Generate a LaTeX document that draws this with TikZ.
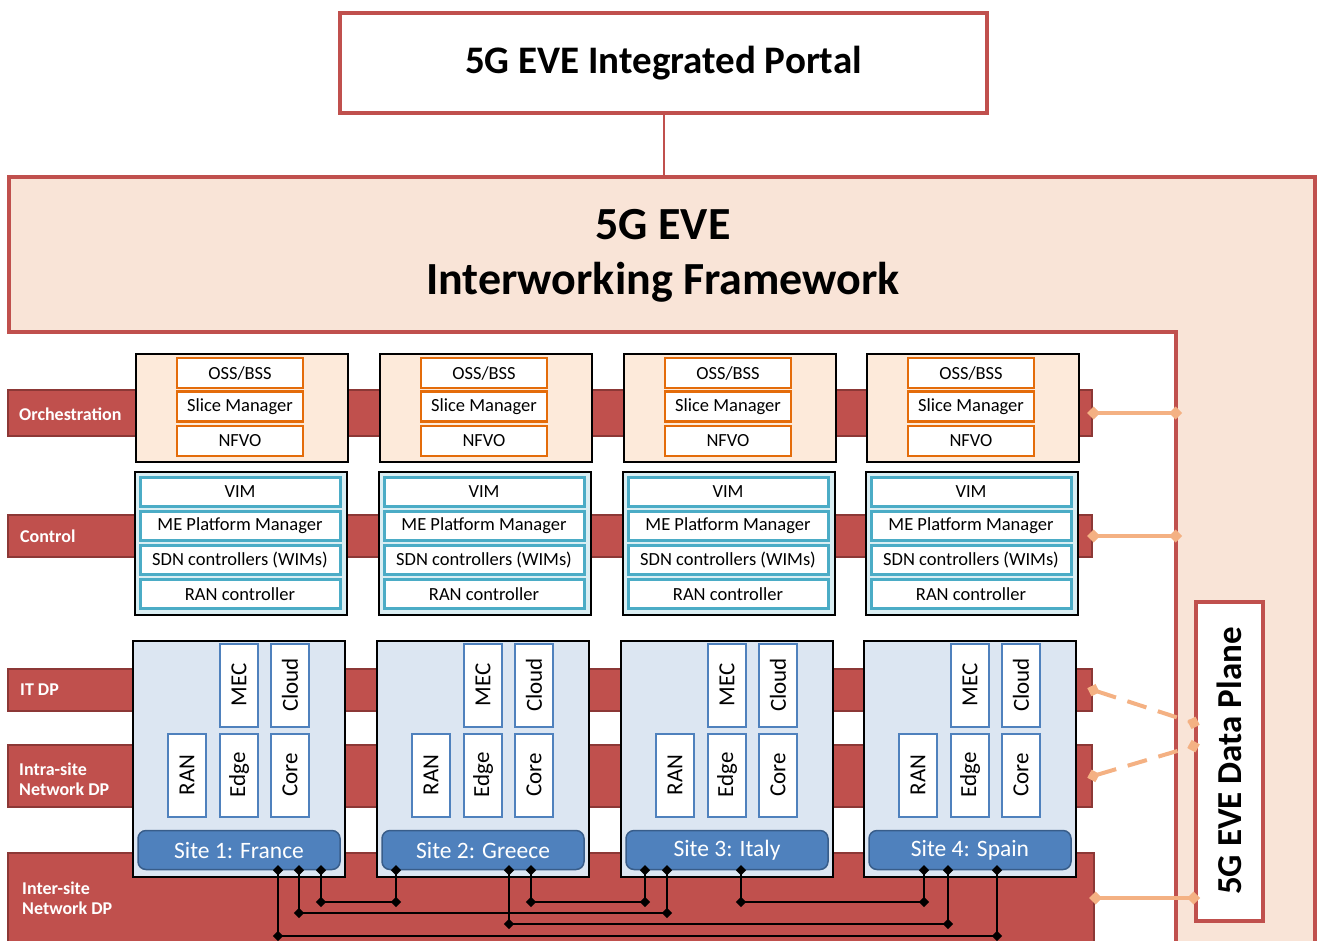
\documentclass[tikz,border=0pt]{standalone}
\usepackage{fontspec}
\setmainfont{Carlito}
\usepackage{xcolor}
\definecolor{evered}{HTML}{C0504D}
\definecolor{evedark}{HTML}{8C3836}
\definecolor{evepeach}{HTML}{F9E4D7}
\definecolor{orchfill}{HTML}{FDEADA}
\definecolor{eveorange}{HTML}{E46C0A}
\definecolor{evecyan}{HTML}{4BACC6}
\definecolor{ctrlfill}{HTML}{DAEEF3}
\definecolor{sitefill}{HTML}{DCE6F2}
\definecolor{eveblue}{HTML}{4F81BD}
\definecolor{eveblueline}{HTML}{385D8A}
\definecolor{evelink}{HTML}{F4B183}
\tikzset{
    layerbar/.style={draw=evedark, fill=evered, line width=2pt, inner sep=0pt},
    barlabel/.style={text=white, font=\fontsize{18}{20}\selectfont\bfseries,
        align=left, anchor=west, inner sep=0pt},
    orchbox/.style={draw=black, fill=orchfill, line width=2pt,
        minimum width=212pt, minimum height=108pt},
    orchitem/.style={draw=eveorange, fill=white, line width=2.5pt, inner sep=0pt,
        minimum width=126pt, minimum height=30pt, font=\fontsize{18.5}{20}\selectfont},
    ctrlbox/.style={draw=black, fill=ctrlfill, line width=2pt,
        minimum width=212pt, minimum height=143pt},
    ctrlitem/.style={draw=evecyan, fill=white, line width=3pt, inner sep=0pt,
        minimum width=200pt, minimum height=29pt, font=\fontsize{18.5}{20}\selectfont},
    sitebox/.style={draw=black, fill=sitefill, line width=2pt,
        minimum width=212pt, minimum height=236pt},
    siteitem/.style={draw=eveblue, fill=white, line width=2pt, inner sep=0pt, rotate=90,
        minimum width=83pt, minimum height=38pt, font=\fontsize{23}{25}\selectfont},
    sitelabel/.style={draw=eveblueline, fill=eveblue, line width=1.5pt, rounded corners=8pt,
        minimum width=202pt, minimum height=39pt, inner sep=0pt, text=white,
        font=\fontsize{23.5}{25}\selectfont},
    meshline/.style={black, line width=2pt},
    jdot/.style={diamond, fill=black, inner sep=0pt, minimum size=11pt},
    fwlink/.style={evelink, line width=4pt, shorten <=-6pt, shorten >=-6pt,
        arrows={Diamond[length=13pt,width=13pt]-Diamond[length=13pt,width=13pt]}},
    fwdash/.style={fwlink, dash pattern=on 20pt off 12pt},
}
\usetikzlibrary{positioning,shapes.geometric,arrows.meta}
\newcommand\meshlink[3]{%
  \draw[meshline] (#1) node[jdot]{} -- (#1 |- 0,#3) node[jdot]{}
        -- (#2 |- 0,#3) node[jdot]{} -- (#2) node[jdot]{};}

\begin{document}
\begin{tikzpicture}[x=1pt, y=-1pt]% pixel grid, y downwards %%%
\useasboundingbox (0,0) rectangle (1319,940);
\clip (0,0) rectangle (1319,940);

%%% interworking framework (L shaped)
\draw[evered, fill=evepeach, line width=4pt]
      (9,177) -- (1315,177) -- (1315,980) -- (1176,980) -- (1176,332) -- (9,332) -- cycle;
\node[font=\fontsize{46}{55}\selectfont\bfseries, align=center] (iwf) at (663,256)
      {5G EVE\\Interworking Framework};

%%% portal
\node[draw=evered, fill=white, line width=4pt, minimum width=647pt, minimum height=100pt,
      font=\fontsize{39}{44}\selectfont\bfseries] (portal) at (663.5,63) {5G EVE Integrated Portal};
\coordinate (fwtop) at (portal.south |- 0,177);
\draw[evered, line width=2pt] (portal.south) -- (fwtop);

%%% layer bars
\node[layerbar, minimum width=1084pt, minimum height=46pt] (orchbar)  at (550,413) {};
\node[layerbar, minimum width=1084pt, minimum height=42pt] (ctrlbar)  at (550,536) {};
\node[layerbar, minimum width=1084pt, minimum height=42pt] (itbar)    at (550,690) {};
\node[layerbar, minimum width=1084pt, minimum height=62pt] (intrabar) at (550,776) {};
\node[layerbar, minimum width=1086pt, minimum height=120pt] (interbar) at (551,913) {};

\node[barlabel] (orchlbl)  at (19,414) {Orchestration};
\node[barlabel] (ctrllbl)  at (20,536) {Control};
\node[barlabel] (itlbl)    at (20,690) {IT DP};
\node[barlabel] (intralbl) at (19,779) {Intra-site\\Network DP};
\node[barlabel] (interlbl) at (22,898) {Inter-site\\Network DP};

%%% the four sites
\foreach \c/\bx/\sname in {1/133/France, 2/377/Greece, 3/621/Italy, 4/864/Spain}{
  \node[orchbox]  (orch\c)  at (\bx+109,407.5) {};
  \node[orchitem] (oss\c)   at (\bx+107,373)   {OSS/BSS};
  \node[orchitem] (slm\c)   at (\bx+107,406.5) {Slice Manager};
  \node[orchitem] (nfvo\c)  at (\bx+107,441)   {NFVO};
  \node[ctrlbox]  (ctrl\c)  at (\bx+108,543)   {};
  \node[ctrlitem] (vim\c)   at (\bx+107,492)   {VIM};
  \node[ctrlitem] (mepm\c)  at (\bx+107,526)   {ME Platform Manager};
  \node[ctrlitem] (sdn\c)   at (\bx+107,560)   {SDN controllers (WIMs)};
  \node[ctrlitem] (ranc\c)  at (\bx+107,594)   {RAN controller};
  \node[sitebox]  (site\c)  at (\bx+106,758.5) {};
  \node[siteitem] (mec\c)   at (\bx+106,685)   {MEC};
  \node[siteitem] (cloud\c) at (\bx+157,685)   {Cloud};
  \node[siteitem] (ran\c)   at (\bx+54,775)    {RAN};
  \node[siteitem] (edge\c)  at (\bx+106,775)   {Edge};
  \node[siteitem] (core\c)  at (\bx+157,775)   {Core};
  \node[sitelabel] (lab\c)  at (\bx+106,850)   {Site \c: \sname};
}

%%% inter-site mesh
\coordinate (p1a) at (lab1.south -| 278,0);
\coordinate (p1b) at (lab1.south -| 299,0);
\coordinate (p1c) at (lab1.south -| 321,0);
\coordinate (p2a) at (lab2.south -| 396,0);
\coordinate (p2b) at (lab2.south -| 509,0);
\coordinate (p2c) at (lab2.south -| 531,0);
\coordinate (p3a) at (lab3.south -| 645,0);
\coordinate (p3b) at (lab3.south -| 667,0);
\coordinate (p3c) at (lab3.south -| 741,0);
\coordinate (p4a) at (lab4.south -| 924,0);
\coordinate (p4b) at (lab4.south -| 948,0);
\coordinate (p4c) at (lab4.south -| 997,0);
\meshlink{p1c}{p2a}{902}
\meshlink{p2c}{p3a}{902}
\meshlink{p3c}{p4a}{902}
\meshlink{p1b}{p3b}{913}
\meshlink{p2b}{p4b}{924}
\meshlink{p1a}{p4c}{936}

%%% data plane
\node[draw=evered, fill=white, line width=4pt, minimum width=319pt, minimum height=67pt,
      rotate=90, font=\fontsize{35}{40}\selectfont\bfseries] (dp) at (1229.5,761) {5G EVE Data Plane};

%%% links to the framework
\coordinate (fwin) at (1176,0);
\coordinate (dpa) at (dp.north |- 0,723);
\coordinate (dpb) at (dp.north |- 0,746);
\draw[fwlink] (orchbar.east) -- (orchbar.east -| fwin);
\draw[fwlink] (ctrlbar.east) -- (ctrlbar.east -| fwin);
\draw[fwdash] (itbar.east) -- (dpa);
\draw[fwdash] (intrabar.east) -- (dpb);
\draw[fwlink] (interbar.east |- 0,898) -- (dp.north |- 0,898);
\end{tikzpicture}
\end{document}
